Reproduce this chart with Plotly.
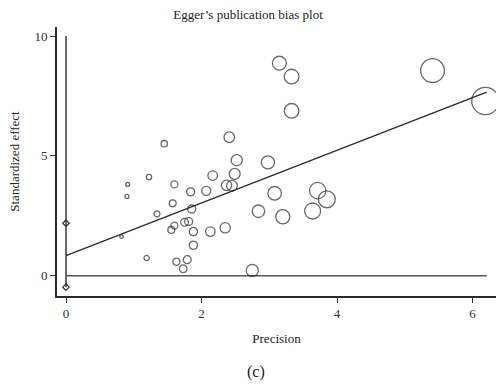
import plotly.graph_objects as go

# Study data: precision (1/SE) and standardized effect (effect/SE)
precision = [1.45, 1.225, 0.91, 0.90, 1.60, 1.84, 1.575, 1.343, 1.855, 1.60,
             1.554, 1.75, 1.81, 1.88, 1.88, 0.82, 1.19, 1.63, 1.79, 1.73,
             3.15, 3.33, 3.33, 2.41, 2.52, 2.98, 2.165, 2.49, 2.07, 2.37,
             2.45, 3.08, 3.715, 3.85, 2.84, 3.20, 3.64, 2.13, 2.35, 2.75,
             5.41, 6.19]
std_effect = [5.51, 4.12, 3.81, 3.31, 3.81, 3.50, 3.02, 2.58, 2.78, 2.09,
              1.91, 2.23, 2.26, 1.84, 1.27, 1.63, 0.74, 0.58, 0.67, 0.29,
              8.87, 8.31, 6.88, 5.78, 4.82, 4.73, 4.18, 4.25, 3.54, 3.77,
              3.75, 3.44, 3.55, 3.19, 2.69, 2.46, 2.70, 1.84, 2.00, 0.22,
              8.56, 7.29]

# Regression line (Egger fit) end points
fit_x = [0, 6.21]
fit_y = [0.835, 7.66]

# Intercept confidence interval on the y-axis (x = 0)
ci_x = [0, 0]
ci_y = [2.19, -0.48]

# Reference lines
vline_x = [0, 0]
vline_y = [-0.48, 10]
zero_x = [0, 6.21]
zero_y = [0, 0]

x_ticks = [0, 2, 4, 6]
y_ticks = [0, 5, 10]

FONT = "Liberation Serif"
INK = "#2b2b2b"

fig = go.Figure()

fig.add_trace(go.Scatter(x=vline_x, y=vline_y, mode="lines",
                         line=dict(color=INK, width=1.4), hoverinfo="skip"))
fig.add_trace(go.Scatter(x=zero_x, y=zero_y, mode="lines",
                         line=dict(color="#555555", width=1.4), hoverinfo="skip"))
fig.add_trace(go.Scatter(x=fit_x, y=fit_y, mode="lines",
                         line=dict(color=INK, width=1.3), hoverinfo="skip"))
fig.add_trace(go.Scatter(
    x=precision, y=std_effect, mode="markers",
    marker=dict(symbol="circle-open", size=[4.4 * p for p in precision],
                color=INK, line=dict(width=1.3, color=INK)),
    cliponaxis=False))
fig.add_trace(go.Scatter(
    x=ci_x, y=ci_y, mode="markers",
    marker=dict(symbol="diamond-open", size=5, color=INK,
                line=dict(width=1.2, color=INK)),
    cliponaxis=False))

fig.update_layout(
    width=496, height=391,
    margin=dict(l=57, r=0, t=27, b=95),
    paper_bgcolor="white", plot_bgcolor="white",
    showlegend=False,
    font=dict(family=FONT, size=13, color="#333333"),
    title=dict(text="Egger’s publication bias plot", x=0.5, xref="container",
               y=1 - 14 / 391, yref="container", yanchor="middle", xanchor="center",
               font=dict(family=FONT, size=13, color="#222222")),
    xaxis=dict(range=[-0.133, 6.347], tickvals=x_ticks, ticks="outside",
               ticklen=5, tickwidth=1.2, tickcolor=INK,
               showline=True, linecolor=INK, linewidth=1.6,
               showgrid=False, zeroline=False,
               tickfont=dict(family=FONT, size=13, color="#333333"),
               title=dict(text="Precision", standoff=13,
                          font=dict(family=FONT, size=13, color="#222222"))),
    yaxis=dict(range=[-0.848, 10.38], tickvals=y_ticks, ticks="outside",
               ticklen=5, tickwidth=1.2, tickcolor=INK,
               showline=True, linecolor=INK, linewidth=1.6,
               showgrid=False, zeroline=False,
               tickfont=dict(family=FONT, size=13, color="#333333"),
               title=dict(text="Standardized effect", standoff=12,
                          font=dict(family=FONT, size=13, color="#222222"))),
    annotations=[dict(text="(c)", x=(256 - 57) / 439, xref="paper",
                      y=(296 - 372) / 269, yref="paper",
                      xanchor="center", yanchor="middle",
                      showarrow=False,
                      font=dict(family=FONT, size=16, color="#222222"))],
)

fig.write_html("out.html")
